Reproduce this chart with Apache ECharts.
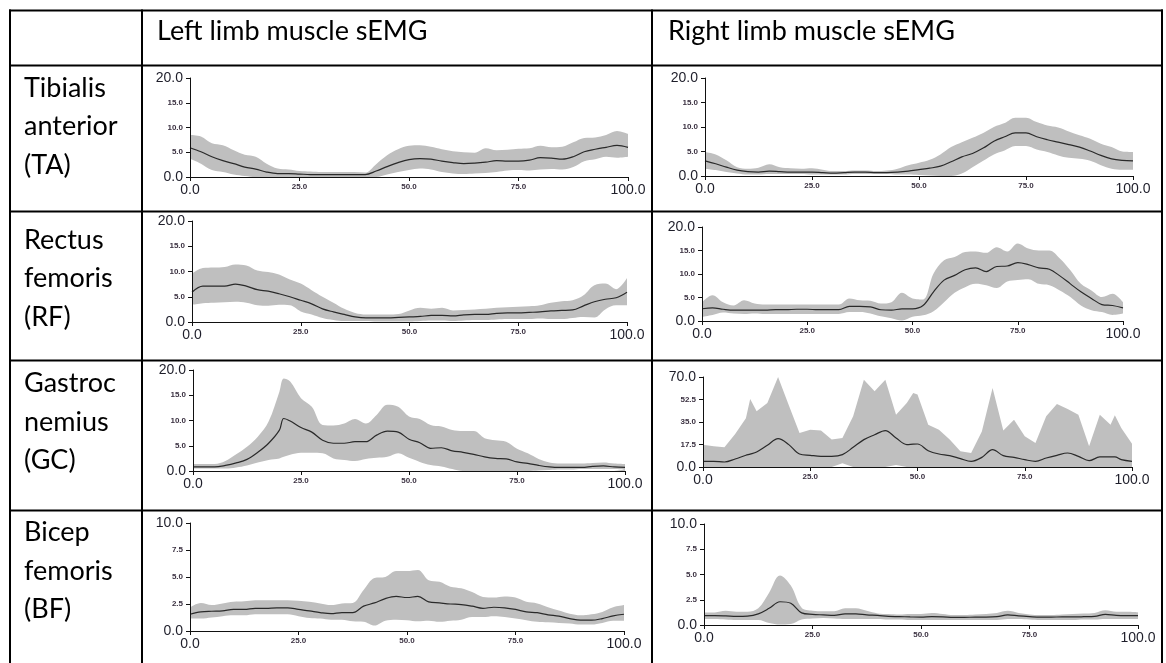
<!DOCTYPE html>
<html>
<head>
<meta charset="utf-8">
<title>Lower limb muscle sEMG</title>
<script src="https://cdn.jsdelivr.net/npm/echarts@6/dist/echarts.min.js"></script>
<style>
  html, body { margin: 0; padding: 0; background: #fff; }
  #chart { width: 1166px; height: 663px; }
</style>
</head>
<body>
<div id="chart"></div>
<script>
// Gait cycle positions (% of cycle) at which each curve is sampled
const gait = [0, 2.5, 5, 7.5, 10, 12.5, 15, 17.5, 20, 22.5, 25, 27.5, 30, 32.5, 35, 37.5, 40, 42.5, 45, 47.5, 50,
  52.5, 55, 57.5, 60, 62.5, 65, 67.5, 70, 72.5, 75, 77.5, 80, 82.5, 85, 87.5, 90, 92.5, 95, 97.5, 100];
const gaitGcLeft = [0, 2.5, 5, 7.5, 10, 12.5, 15, 17.5, 20, 21, 22.5, 25, 27.5, 30, 32.5, 35, 37.5, 40, 42.5, 45, 47.5, 50,
  52.5, 55, 57.5, 60, 62.5, 65, 67.5, 70, 72.5, 75, 77.5, 80, 82.5, 85, 87.5, 90, 92.5, 95, 97.5, 100];
const gaitGcRight = [0, 2.5, 5, 7.5, 10, 11, 12.5, 15, 17.5, 20, 22.5, 25, 27.5, 30, 32.5, 35, 37.5, 40, 42.5, 45, 47.5, 49, 50,
  52.5, 55, 57.5, 60, 62.5, 65, 67.5, 70, 72.5, 75, 77.5, 80, 82.5, 85, 87.5, 90, 92.5, 95, 96, 97.5, 100];

// Tibialis anterior
const taLeftMean  = [5.9, 5.1, 4.1, 3.3, 2.7, 2.0, 1.6, 1.0, 0.7, 0.7, 0.6, 0.5, 0.5, 0.5, 0.5, 0.5, 0.5, 1.2, 2.1, 2.9, 3.5,
  3.7, 3.6, 3.2, 2.9, 2.7, 2.8, 3.0, 3.3, 3.2, 3.2, 3.4, 3.9, 3.8, 3.6, 4.1, 5.1, 5.6, 6.0, 6.4, 6.0];
const taLeftUpper = [8.5, 8.2, 6.8, 6.4, 5.4, 4.5, 4.1, 2.7, 1.7, 1.5, 1.2, 1.1, 1.0, 1.0, 1.0, 1.0, 0.9, 2.6, 4.4, 5.6, 6.3,
  6.4, 6.1, 5.6, 5.2, 5.0, 4.9, 5.8, 5.4, 5.5, 5.7, 5.8, 6.3, 6.0, 6.1, 7.0, 7.9, 8.0, 8.5, 9.3, 8.7];
const taLeftLower = [3.7, 2.7, 1.4, 1.0, 0.5, 0.2, 0, 0, 0, 0, 0, 0, 0, 0, 0, 0, 0, 0, 0.5, 1.0, 1.4,
  1.7, 1.5, 1.0, 0.7, 0.6, 0.7, 0.8, 1.0, 1.3, 1.4, 1.3, 1.5, 1.6, 1.5, 2.0, 3.2, 3.6, 4.1, 3.9, 4.1];
const taRightMean  = [3.1, 2.5, 1.8, 1.2, 0.9, 0.8, 1.0, 0.9, 0.8, 0.8, 0.8, 0.7, 0.6, 0.7, 0.8, 0.8, 0.7, 0.7, 0.8, 1.0, 1.3,
  1.6, 2.0, 2.9, 3.9, 4.6, 5.7, 7.1, 8.0, 8.8, 8.8, 8.0, 7.4, 6.9, 6.4, 5.9, 5.1, 4.2, 3.5, 3.2, 3.1];
const taRightUpper = [4.9, 4.4, 3.2, 1.8, 1.5, 1.7, 2.4, 1.8, 1.6, 1.5, 1.6, 1.3, 1.0, 1.0, 1.1, 1.1, 1.0, 1.1, 1.5, 2.2, 2.7,
  3.3, 4.4, 5.9, 6.9, 7.8, 8.8, 10.0, 10.8, 11.9, 11.9, 11.0, 10.3, 9.9, 9.1, 8.3, 7.6, 6.6, 5.9, 5.0, 4.9];
const taRightLower = [1.5, 1.2, 0.8, 0.5, 0.3, 0.3, 0.4, 0.4, 0.4, 0.4, 0.3, 0.3, 0.3, 0.3, 0.4, 0.4, 0.4, 0.4, 0.3, 0.3, 0.2,
  0.1, 0, 0, 0.5, 1.8, 3.1, 4.4, 5.2, 6.1, 6.1, 5.4, 4.9, 4.2, 3.7, 3.5, 3.1, 2.2, 1.5, 1.3, 1.3];

// Rectus femoris
const rfLeftMean  = [5.9, 7.1, 7.1, 7.1, 7.5, 7.1, 6.4, 6.1, 5.6, 5.0, 4.3, 3.6, 2.6, 2.0, 1.5, 1.0, 0.8, 0.8, 0.8, 0.9, 1.0,
  1.1, 1.3, 1.3, 1.2, 1.4, 1.5, 1.5, 1.7, 1.8, 1.8, 1.9, 2.0, 2.2, 2.3, 2.4, 3.2, 4.0, 4.5, 4.8, 5.9];
const rfLeftUpper = [9.6, 10.7, 10.8, 10.9, 11.4, 11.2, 10.2, 9.9, 9.4, 8.4, 7.6, 6.3, 5.0, 3.8, 2.6, 1.8, 1.5, 1.5, 1.5, 1.6, 2.3,
  2.8, 2.6, 2.8, 2.3, 2.4, 2.5, 2.6, 2.8, 2.9, 3.0, 3.1, 3.3, 3.8, 4.1, 4.3, 5.3, 7.3, 7.6, 6.5, 8.7];
const rfLeftLower = [3.4, 3.7, 3.8, 3.9, 4.0, 3.8, 3.3, 3.2, 3.4, 3.3, 2.1, 1.5, 0.8, 0.4, 0.2, 0.2, 0.2, 0.1, 0.1, 0.1, 0.1,
  0.2, 0.3, 0.3, 0.2, 0.3, 0.4, 0.4, 0.5, 0.6, 0.6, 0.6, 0.7, 0.6, 0.6, 0.8, 1.0, 0.9, 2.5, 3.3, 3.3];
const rfRightMean  = [2.6, 2.8, 2.5, 2.3, 2.3, 2.3, 2.3, 2.4, 2.4, 2.5, 2.5, 2.4, 2.4, 2.4, 3.1, 3.1, 3.0, 2.4, 2.3, 2.6, 2.6,
  3.3, 6.2, 8.7, 9.7, 10.9, 11.3, 10.5, 11.6, 11.7, 12.4, 12.0, 11.3, 11.0, 9.6, 7.9, 6.2, 4.8, 3.5, 3.3, 2.8];
const rfRightUpper = [4.0, 5.5, 4.0, 3.3, 4.4, 3.7, 3.5, 3.5, 3.5, 3.5, 3.5, 3.5, 3.5, 3.5, 4.8, 4.4, 4.3, 3.7, 4.0, 6.0, 4.8,
  4.6, 10.1, 12.9, 13.6, 14.7, 14.8, 14.5, 15.7, 14.8, 16.5, 15.4, 15.0, 15.0, 13.3, 10.8, 7.9, 6.5, 5.1, 5.8, 4.0];
const rfRightLower = [0.9, 1.3, 1.8, 1.6, 1.5, 1.6, 1.5, 1.5, 1.5, 1.5, 1.5, 1.5, 1.5, 1.5, 1.9, 1.9, 1.6, 1.0, 0.6, 0.1, 0.9,
  1.2, 2.1, 4.0, 6.0, 7.2, 7.9, 7.6, 7.0, 8.4, 8.7, 8.9, 7.9, 7.6, 6.5, 5.1, 3.3, 2.3, 1.9, 1.3, 1.6];

// Gastrocnemius
const gcLeftMean  = [0.8, 0.8, 0.8, 1.1, 1.6, 2.3, 3.7, 5.5, 8.1, 10.4, 9.9, 8.6, 7.7, 6.1, 5.5, 5.5, 5.8, 5.8, 7.1, 7.9, 7.7,
  6.3, 5.6, 4.5, 4.6, 4.0, 3.7, 3.3, 2.8, 2.5, 2.4, 1.8, 1.5, 1.1, 0.8, 0.7, 0.7, 0.7, 0.9, 1.0, 0.8, 0.7];
const gcLeftUpper = [1.4, 1.4, 1.4, 2.0, 3.3, 4.8, 6.8, 9.8, 15.7, 18.3, 17.7, 14.4, 12.7, 9.1, 9.0, 9.4, 10.3, 9.4, 11.1, 13.1, 12.7,
  10.8, 10.3, 9.1, 8.8, 8.1, 7.9, 7.9, 6.5, 6.1, 5.8, 4.4, 3.5, 2.4, 1.7, 1.5, 1.5, 1.5, 1.6, 1.7, 1.5, 1.4];
const gcLeftLower = [0.5, 0.5, 0.5, 0.5, 0.7, 1.1, 1.7, 2.2, 2.5, 2.8, 3.2, 3.6, 3.6, 3.5, 2.5, 2.2, 2.0, 2.4, 2.6, 2.8, 3.5,
  2.6, 1.8, 1.2, 0.9, 0.4, 0, 0, 0, 0, 0, 0, 0, 0.1, 0.2, 0.3, 0.3, 0.4, 0.4, 0.4, 0.4, 0.3];
const gcRightMean  = [4.4, 4.4, 3.9, 6.2, 9.1, 10.0, 11.7, 16.9, 22.0, 17.4, 10.1, 9.1, 8.3, 8.3, 9.6, 15.3, 21.3, 25.1, 28.3, 22.6,
  17.4, 17.8, 17.9, 12.7, 10.1, 8.8, 6.5, 4.4, 7.5, 13.5, 8.8, 7.5, 5.7, 4.4, 7.0, 9.1, 10.9, 8.3, 4.9, 7.8, 7.8, 7.8, 5.7, 4.4];
const gcRightUpper = [17.4, 16.1, 15.3, 25.7, 38.0, 52.9, 43.3, 49.8, 70.0, 48.0, 26.5, 29.0, 28.3, 21.3, 22.6, 39.4, 67.9, 58.9, 67.9, 40.7,
  49.8, 57.6, 56.3, 32.9, 29.0, 21.3, 12.2, 10.9, 27.7, 61.4, 28.3, 36.8, 23.9, 18.7, 39.4, 49.0, 45.1, 40.7, 16.1, 40.7, 32.9, 40.2, 30.3, 18.1];
const gcRightLower = [0, 0, 0, 0, 0, 0, 0, 0, 0, 0, 0, 0, 0, 0, 3.0, 0, 0, 0, 0, 1.5,
  0, 0, 0, 0, 0, 0, 0, 0, 0, 0, 0, 0, 0, 0, 0, 0, 0, 0, 0, 0, 0, 0, 0, 0];

// Biceps femoris
const bfLeftMean  = [1.55, 1.77, 1.83, 1.86, 2.0, 2.0, 2.1, 2.1, 2.15, 2.15, 2.0, 1.86, 1.7, 1.6, 1.7, 1.7, 2.3, 2.6, 3.0, 3.2, 3.1,
  3.2, 2.7, 2.6, 2.5, 2.45, 2.3, 2.1, 2.2, 2.15, 2.0, 1.77, 1.7, 1.5, 1.37, 1.15, 1.0, 1.0, 1.15, 1.4, 1.55];
const bfLeftUpper = [2.2, 2.6, 2.4, 2.55, 2.7, 2.75, 2.85, 2.85, 2.85, 2.85, 2.8, 2.7, 2.55, 2.4, 2.55, 2.6, 3.8, 4.9, 5.0, 5.55, 5.55,
  5.65, 4.7, 4.55, 4.1, 3.95, 3.6, 3.15, 3.1, 3.2, 3.1, 2.7, 2.55, 2.2, 1.9, 1.6, 1.45, 1.55, 1.77, 2.2, 2.4];
const bfLeftLower = [1.15, 1.15, 1.25, 1.37, 1.45, 1.45, 1.55, 1.55, 1.55, 1.55, 1.37, 1.2, 1.15, 1.05, 1.05, 0.9, 0.85, 0.5, 0.95, 1.05, 1.0,
  0.9, 0.95, 0.85, 0.95, 1.05, 1.3, 1.3, 1.37, 1.3, 1.15, 1.0, 0.85, 0.8, 0.75, 0.7, 0.6, 0.6, 0.75, 0.95, 0.95];
const bfRightMean  = [0.93, 0.93, 0.9, 0.85, 0.88, 1.1, 1.65, 2.3, 2.15, 1.2, 1.05, 1.0, 0.95, 1.1, 1.1, 1.0, 0.95, 0.85, 0.83, 0.8, 0.78,
  0.82, 0.8, 0.75, 0.75, 0.78, 0.78, 0.82, 1.0, 0.9, 0.83, 0.78, 0.78, 0.8, 0.8, 0.82, 0.85, 1.05, 0.95, 0.93, 0.93];
const bfRightUpper = [1.25, 1.25, 1.4, 1.3, 1.3, 1.65, 3.2, 4.9, 3.9, 1.7, 1.4, 1.35, 1.35, 1.65, 1.65, 1.4, 1.15, 1.1, 1.05, 1.1, 1.1,
  1.2, 1.1, 1.0, 1.0, 1.05, 1.1, 1.2, 1.4, 1.2, 1.05, 1.0, 1.0, 1.05, 1.1, 1.15, 1.2, 1.45, 1.3, 1.3, 1.25];
const bfRightLower = [0.6, 0.6, 0.55, 0.5, 0.5, 0.5, 0.2, 0.05, 0.1, 0.55, 0.65, 0.7, 0.65, 0.6, 0.6, 0.6, 0.6, 0.55, 0.55, 0.5, 0.5,
  0.5, 0.5, 0.5, 0.5, 0.5, 0.5, 0.5, 0.6, 0.6, 0.55, 0.5, 0.5, 0.5, 0.5, 0.55, 0.55, 0.6, 0.6, 0.6, 0.6];

// Table text
const columnHeaders = ['Left limb muscle sEMG', 'Right limb muscle sEMG'];
const muscleLabels = [
  ['Tibialis', 'anterior', '(TA)'],
  ['Rectus', 'femoris', '(RF)'],
  ['Gastroc', 'nemius', '(GC)'],
  ['Bicep', 'femoris', '(BF)']
];

// Y-axis ranges (max, tick step) for each panel, row by row, left then right
const yRanges = [[20, 5], [20, 5], [20, 5], [20, 5], [20, 5], [70, 17.5], [10, 2.5], [10, 2.5]];

const panels = [
  { x: gait, mean: taLeftMean, upper: taLeftUpper, lower: taLeftLower },
  { x: gait, mean: taRightMean, upper: taRightUpper, lower: taRightLower },
  { x: gait, mean: rfLeftMean, upper: rfLeftUpper, lower: rfLeftLower },
  { x: gait, mean: rfRightMean, upper: rfRightUpper, lower: rfRightLower },
  { x: gaitGcLeft, mean: gcLeftMean, upper: gcLeftUpper, lower: gcLeftLower },
  { x: gaitGcRight, mean: gcRightMean, upper: gcRightUpper, lower: gcRightLower, sharp: true },
  { x: gait, mean: bfLeftMean, upper: bfLeftUpper, lower: bfLeftLower },
  { x: gait, mean: bfRightMean, upper: bfRightUpper, lower: bfRightLower }
];

// ---- layout (pixels) ----
const plotRects = [
  [190, 78, 438, 99], [705, 78, 428, 98],
  [192, 221, 435, 101], [702, 227, 421, 94],
  [193, 370, 432, 101], [703, 377, 429, 90],
  [190, 523, 434, 108], [704, 524, 434, 101]
];
const tableLeft = 10, tableRight = 1162, tableBottom = 663;
const rowLines = [10.5, 65.5, 211.5, 360.5, 510.5];
const colLines = [10, 142, 652, 1162];
const rowBaselines = [96.5, 248.5, 392, 541];
const lineGap = 38.5;

const TICK_FONT = "'Liberation Sans Narrow', 'Liberation Sans', Arial, sans-serif";
const CELL_FONT = "27px Lato, 'Open Sans', sans-serif";
const BAND = '#bfbfbf';
const INK = '#111';

function tickLabels(max) {
  return {
    margin: 0,
    formatter: function (v) {
      const s = v.toFixed(1);
      return (v === 0 || v === max) ? '{big|' + s + '}' : '{small|' + s + '}';
    },
    rich: {
      big: { fontSize: 14, fontFamily: TICK_FONT, color: '#1e1e2a' },
      small: { fontSize: 8, fontFamily: TICK_FONT, fontWeight: 'bold', color: '#3a3040' }
    }
  };
}

const grids = [], xAxes = [], yAxes = [], series = [];
panels.forEach(function (p, i) {
  const r = plotRects[i];
  const yMax = yRanges[i][0], yStep = yRanges[i][1];
  grids.push({ left: r[0], top: r[1], width: r[2], height: r[3], containLabel: false, outerBoundsMode: 'none' });
  const common = {
    gridIndex: i, type: 'value', z: 4,
    axisLine: { show: true, onZero: false, lineStyle: { color: INK, width: 1 } },
    axisTick: { show: true, inside: false, length: 4, lineStyle: { color: INK, width: 1 } },
    splitLine: { show: false }
  };
  const xl = tickLabels(100); xl.margin = 6;
  const yl = tickLabels(yMax); yl.margin = 7;
  xAxes.push(Object.assign({}, common, { min: 0, max: 100, interval: 25, axisLabel: xl }));
  yAxes.push(Object.assign({}, common, { min: 0, max: yMax, interval: yStep, axisLabel: yl }));

  const smooth = p.sharp ? false : 0.35;
  const pairs = function (arr) { return p.x.map(function (xv, k) { return [xv, arr[k]]; }); };
  // SD band: grey area under the upper bound, cleared below the lower bound
  series.push({
    type: 'line', xAxisIndex: i, yAxisIndex: i, data: pairs(p.upper), smooth: smooth,
    symbol: 'none', silent: true, z: 1, lineStyle: { opacity: 0 },
    areaStyle: { color: BAND, opacity: 1, origin: 'start' }
  });
  series.push({
    type: 'line', xAxisIndex: i, yAxisIndex: i, data: pairs(p.lower), smooth: smooth,
    symbol: 'none', silent: true, z: 2, lineStyle: { opacity: 0 },
    areaStyle: { color: '#ffffff', opacity: 1, origin: 'start' }
  });
  // mean envelope
  series.push({
    type: 'line', xAxisIndex: i, yAxisIndex: i, data: pairs(p.mean), smooth: 0.35,
    symbol: 'none', silent: true, z: 3, lineStyle: { color: '#2a2a2a', width: 1.2 }
  });
});

// table rules and cell text
const graphics = [];
rowLines.forEach(function (y) {
  graphics.push({ type: 'line', shape: { x1: tableLeft - 1, y1: y, x2: tableRight + 1, y2: y }, style: { stroke: '#000', lineWidth: 2 } });
});
colLines.forEach(function (x) {
  graphics.push({ type: 'line', shape: { x1: x, y1: rowLines[0] - 1, x2: x, y2: tableBottom }, style: { stroke: '#000', lineWidth: 2 } });
});
const headerX = [157, 668];
columnHeaders.forEach(function (t, c) {
  graphics.push({ type: 'text', x: headerX[c], y: 31, style: { text: t, font: CELL_FONT, fill: '#000', align: 'left', verticalAlign: 'middle' } });
});
muscleLabels.forEach(function (lines, r) {
  lines.forEach(function (t, k) {
    graphics.push({
      type: 'text', x: 24, y: rowBaselines[r] - 8.6 + k * lineGap,
      style: { text: t, font: CELL_FONT, fill: '#000', align: 'left', verticalAlign: 'middle' }
    });
  });
});

const chart = echarts.init(document.getElementById('chart'), null, { renderer: 'canvas' });
chart.setOption({
  animation: false,
  backgroundColor: '#ffffff',
  grid: grids,
  xAxis: xAxes,
  yAxis: yAxes,
  series: series,
  graphic: graphics
});
</script>
</body>
</html>
